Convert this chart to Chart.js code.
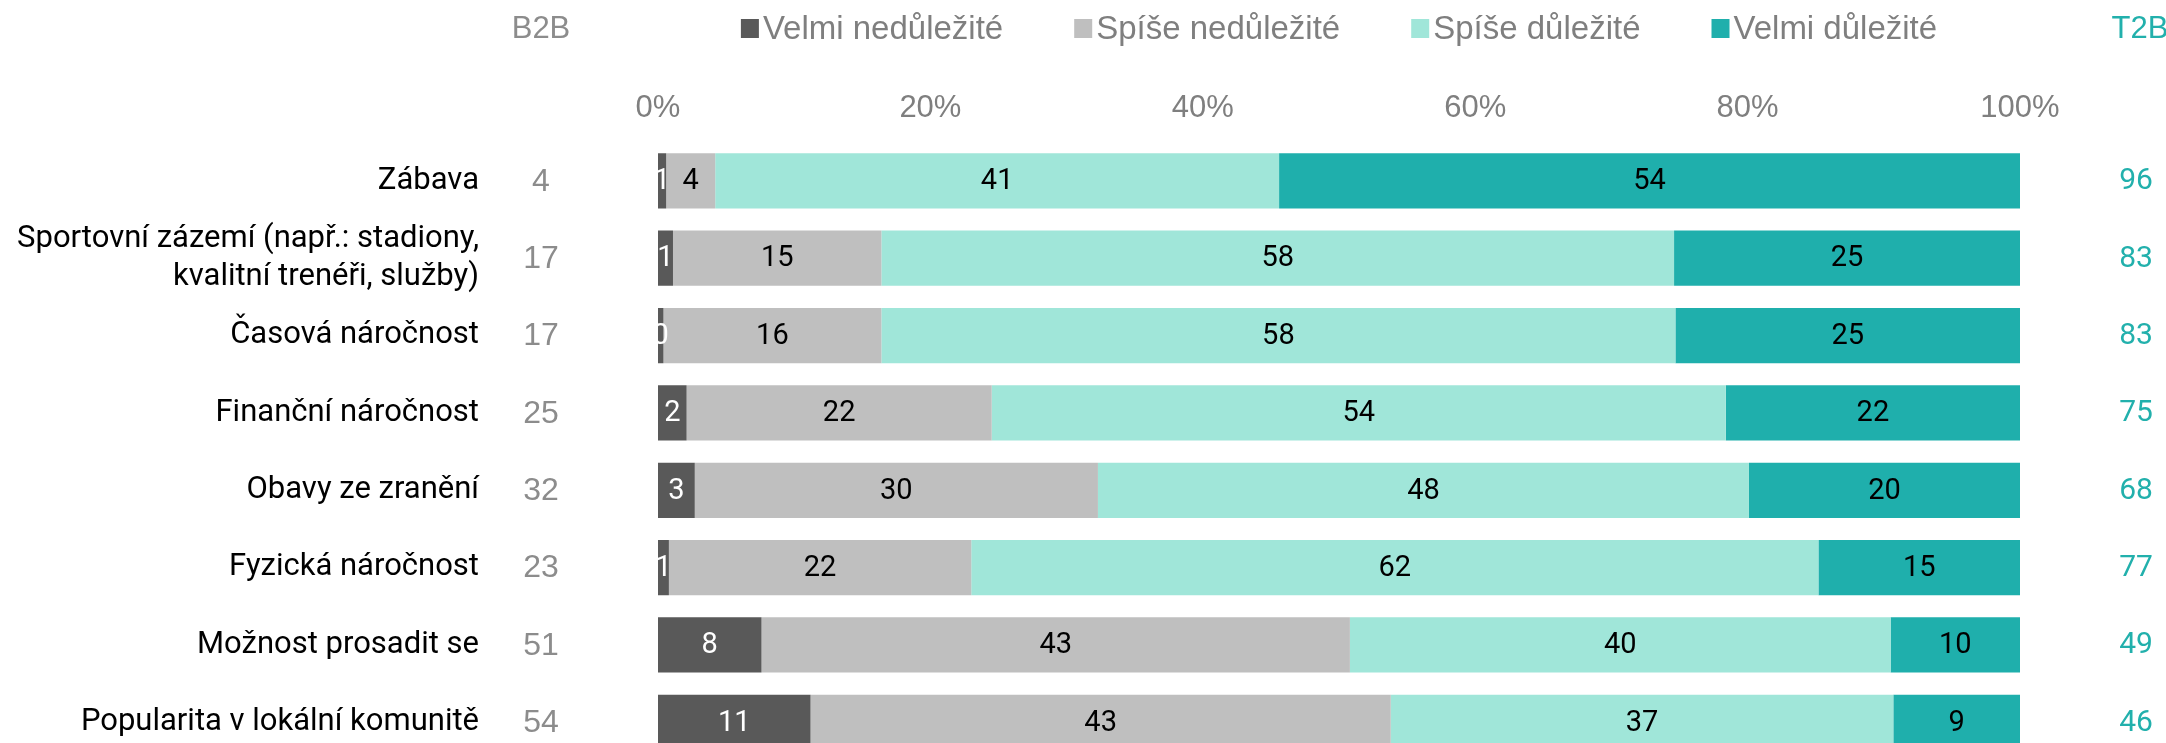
<!DOCTYPE html>
<html lang="cs">
<head>
<meta charset="utf-8">
<title>Důležitost faktorů</title>
<script src="https://cdn.jsdelivr.net/npm/chart.js@4.4.1/dist/chart.umd.min.js"></script>
<style>
  html, body { margin: 0; padding: 0; background: #fff; overflow: hidden; }
  #wrap { position: relative; width: 2166px; height: 761px; }
</style>
</head>
<body>
<div id="wrap"><canvas id="myChart"></canvas></div>
<script>
const categories = [
  "Zábava",
  ["Sportovní zázemí (např.: stadiony,", "kvalitní trenéři, služby)"],
  "Časová náročnost",
  "Finanční náročnost",
  "Obavy ze zranění",
  "Fyzická náročnost",
  "Možnost prosadit se",
  "Popularita v lokální komunitě",
];
const seriesNames = ["Velmi nedůležité", "Spíše nedůležité", "Spíše důležité", "Velmi důležité"];
const velmiNedulezite = [0.6, 1.1, 0.4, 2.1, 2.7, 0.8, 7.6, 11.2];
const spiseNedulezite = [3.6, 15.3, 16.0, 22.4, 29.6, 22.2, 43.2, 42.6];
const spiseDulezite = [41.4, 58.2, 58.3, 53.9, 47.8, 62.2, 39.7, 36.9];
const velmiDulezite = [54.4, 25.4, 25.3, 21.6, 19.9, 14.8, 9.5, 9.3];
const b2b = [4, 17, 17, 25, 32, 23, 51, 54];
const t2b = [96, 83, 83, 75, 68, 77, 49, 46];

const colors = ["#595959", "#bfbfbf", "#a0e6d9", "#1fafac"];
const arial = "'Liberation Sans', Arial, sans-serif";
const roboto = "Roboto, sans-serif";

// popisky v sloupcich, B2B / T2B a legenda
const overlay = {
  id: "overlay",
  afterDatasetsDraw(chart) {
    const { ctx, chartArea, scales } = chart;
    ctx.save();
    ctx.textBaseline = "middle";
    ctx.textAlign = "center";
    ctx.font = `29px ${roboto}`;
    chart.data.datasets.forEach((ds, i) => {
      const meta = chart.getDatasetMeta(i);
      ctx.fillStyle = i === 0 ? "#ffffff" : "#000000";
      meta.data.forEach((bar, j) => {
        ctx.fillText(Math.round(ds.data[j]), (bar.x + bar.base) / 2, bar.y + 1);
      });
    });

    const b2bX = chartArea.left - 117;
    const t2bX = chartArea.right + 116;
    categories.forEach((c, j) => {
      const y = scales.y.getPixelForValue(j) + 1;
      ctx.font = `32px ${arial}`;
      ctx.fillStyle = "#8c8c8c";
      ctx.fillText(b2b[j], b2bX, y);
      ctx.font = `30px ${roboto}`;
      ctx.fillStyle = "#22b0ac";
      ctx.fillText(t2b[j], t2bX, y);
    });

    // hlavicky
    const headY = 29;
    ctx.font = `31px ${arial}`;
    ctx.fillStyle = "#8c8c8c";
    ctx.fillText("B2B", b2bX, headY);
    ctx.fillStyle = "#22b0ac";
    ctx.fillText("T2B", t2bX + 4, headY);

    // legenda
    ctx.font = `33px ${arial}`;
    const box = 18, gap = 4, itemGap = 71;
    const widths = seriesNames.map((n) => ctx.measureText(n).width);
    const total = widths.reduce((a, b) => a + b, 0) + seriesNames.length * (box + gap) + (seriesNames.length - 1) * itemGap;
    let x = (chartArea.left + chartArea.right) / 2 - total / 2;
    ctx.textAlign = "left";
    seriesNames.forEach((n, i) => {
      ctx.fillStyle = colors[i];
      ctx.fillRect(x, headY - 10, box, 19);
      ctx.fillStyle = "#7f7f7f";
      ctx.fillText(n, x + box + gap, headY + 1);
      x += box + gap + widths[i] + itemGap;
    });
    ctx.restore();
  },
};

const makeDataset = (label, data, i) => ({
  label,
  data,
  backgroundColor: colors[i],
  borderWidth: 0,
  barPercentage: 0.714,
  categoryPercentage: 1,
});

const data = {
  labels: categories,
  datasets: [
    makeDataset(seriesNames[0], velmiNedulezite, 0),
    makeDataset(seriesNames[1], spiseNedulezite, 1),
    makeDataset(seriesNames[2], spiseDulezite, 2),
    makeDataset(seriesNames[3], velmiDulezite, 3),
  ],
};

const config = {
  type: "bar",
  data,
  options: {
    indexAxis: "y",
    responsive: true,
    maintainAspectRatio: false,
    animation: false,
    layout: { padding: { top: 75, right: 146, left: 0, bottom: 0 } },
    plugins: {
      legend: { display: false },
      tooltip: { enabled: false },
    },
    scales: {
      x: {
        stacked: true,
        position: "top",
        min: 0,
        max: 100,
        grid: { display: false, drawTicks: false },
        border: { display: false },
        ticks: {
          stepSize: 20,
          padding: 15,
          color: "#7f7f7f",
          font: { family: arial, size: 31 },
          callback: (v) => v + "%",
        },
      },
      y: {
        stacked: true,
        grid: { display: false, drawTicks: false },
        border: { display: false },
        afterFit: (scale) => {
          scale.width = 658;
          scale.paddingTop = 0;
          scale.paddingBottom = 0;
        },
        ticks: {
          autoSkip: false,
          padding: 179,
          color: "#000000",
          font: { family: roboto, size: 31, lineHeight: 1.2 },
        },
      },
    },
  },
  plugins: [overlay],
};

const canvas = document.getElementById("myChart").getContext("2d");
const myChart = new Chart(canvas, config);
</script>
</body>
</html>
